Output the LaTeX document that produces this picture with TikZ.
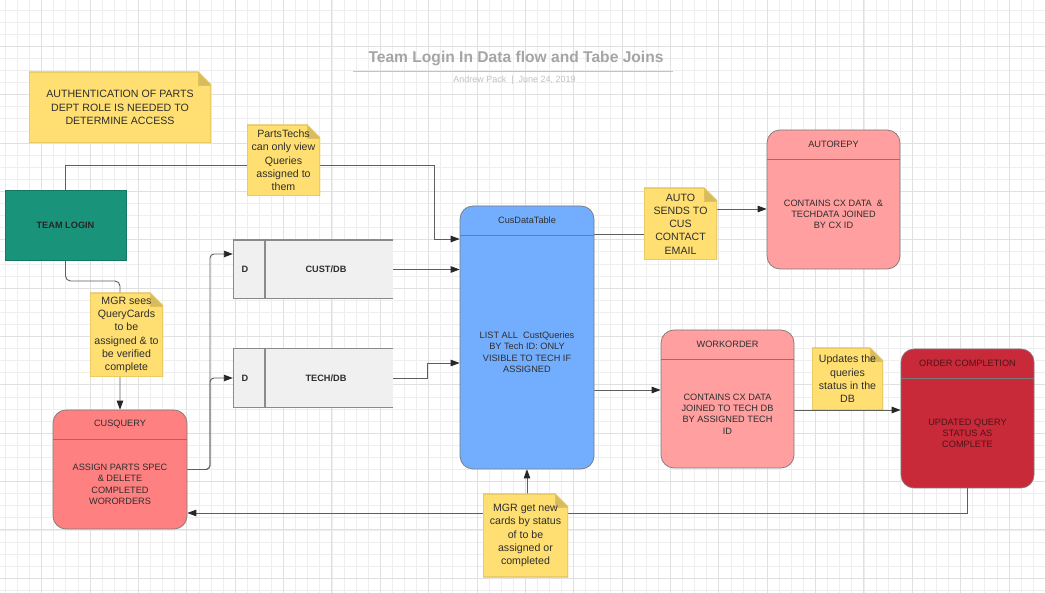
\documentclass[tikz,border=0pt]{standalone}
\usepackage{fontspec}
\setmainfont{Liberation Sans}
\usetikzlibrary{arrows.meta,calc}
\pgfdeclarelayer{gridlayer}
\pgfdeclarelayer{edges}
\pgfsetlayers{gridlayer,edges,main}
\definecolor{gridminor}{HTML}{EEEEEE}
\definecolor{gridmajor}{HTML}{E0E0E0}
\definecolor{notefill}{HTML}{FFDF71}
\definecolor{noteborder}{HTML}{E3C15A}
\definecolor{foldfill}{HTML}{D6BC5E}
\definecolor{linegray}{HTML}{5E5E5E}
\definecolor{boxborder}{HTML}{7A7A7A}
\definecolor{tealbox}{HTML}{1A937B}
\definecolor{dbfill}{HTML}{EFF0EF}
\definecolor{dbborder}{HTML}{8A8A8A}
\definecolor{salmonbox}{HTML}{FF8080}
\definecolor{pinkbox}{HTML}{FF9F9F}
\definecolor{bluebox}{HTML}{73AEFE}
\definecolor{redbox}{HTML}{C92A39}
\definecolor{txt}{HTML}{2E2E2E}
\definecolor{redtxt}{HTML}{4D1419}
\definecolor{titlegray}{HTML}{A5A5A5}
\definecolor{subgray}{HTML}{C2C2C2}
\begin{document}
\begin{tikzpicture}[x=1pt,y=-1pt,
  minorgrid/.style={draw=gridminor, line width=0.8pt},
  majorgrid/.style={draw=gridmajor, line width=1pt},
  conn/.style={draw=linegray, line width=0.9pt},
  arr/.style={conn, -{Triangle[length=9pt,width=6.5pt,color=black!85]}},
  boxfont/.style={font=\fontsize{9.2}{11.3}\selectfont},
  boldfont/.style={font=\fontsize{9.2}{11.3}\selectfont\bfseries},
  tbox/.style={draw=boxborder, line width=0.7pt, rounded corners=13pt, inner sep=0pt,
    path picture={\draw[boxborder, line width=0.7pt]
      ([yshift=-29pt]path picture bounding box.north west) --
      ([yshift=-29pt]path picture bounding box.north east);}},
  boxtitle/.style={boxfont, text=txt, inner sep=1pt},
  boxbody/.style={boxfont, text=txt, align=center, inner sep=1pt},
  dbbox/.style={fill=dbfill, inner sep=0pt, minimum width=160pt, minimum height=59pt,
    path picture={
      \draw[dbborder, line width=1.6pt]
        (path picture bounding box.north east) -- (path picture bounding box.north west) --
        (path picture bounding box.south west) -- (path picture bounding box.south east);
      \draw[dbborder, line width=1.4pt]
        ([xshift=32pt]path picture bounding box.north west) --
        ([xshift=32pt]path picture bounding box.south west);}},
  dblabel/.style={boldfont, text=txt, inner sep=1pt},
  note/.style={inner sep=0pt, align=center, text=txt,
    font=\fontsize{10.6}{13.3}\selectfont,
    path picture={
      \fill[notefill] (path picture bounding box.south west) -- (path picture bounding box.north west) --
        ([xshift=-13pt]path picture bounding box.north east) --
        ([yshift=-13pt]path picture bounding box.north east) --
        (path picture bounding box.south east) -- cycle;
      \fill[foldfill] ([xshift=-13pt]path picture bounding box.north east) --
        ([xshift=-13pt,yshift=-13pt]path picture bounding box.north east) --
        ([yshift=-13pt]path picture bounding box.north east) -- cycle;
      \draw[noteborder, line width=1.2pt, line join=bevel]
        (path picture bounding box.south west) -- (path picture bounding box.north west) --
        ([xshift=-13pt]path picture bounding box.north east) --
        ([yshift=-13pt]path picture bounding box.north east) --
        (path picture bounding box.south east) -- cycle;
      \draw[noteborder, line width=0.6pt]
        ([xshift=-13pt]path picture bounding box.north east) --
        ([xshift=-13pt,yshift=-13pt]path picture bounding box.north east) --
        ([yshift=-13pt]path picture bounding box.north east);}}
]
\useasboundingbox (0,0) rectangle (1045,593);

% ---------- grid ----------
\begin{pgfonlayer}{gridlayer}
\fill[white] (0,0) rectangle (1045,593);
\foreach \i in {0,...,85} \draw[minorgrid] ({5.43+12.092*\i},0) -- ({5.43+12.092*\i},593);
\foreach \j in {0,...,48} \draw[minorgrid] (0,{10.03+12.092*\j}) -- (1045,{10.03+12.092*\j});
\foreach \i in {0,...,20} \draw[majorgrid] ({41.7+48.37*\i},0) -- ({41.7+48.37*\i},593);
\foreach \j in {0,...,11} \draw[majorgrid] (0,{46.3+48.37*\j}) -- (1045,{46.3+48.37*\j});
\end{pgfonlayer}

% ---------- title ----------
\node[font=\fontsize{15.6}{18}\selectfont\bfseries, text=titlegray] (title) at (516,59) {Team Login In Data flow and Tabe Joins};
\draw[draw=gridmajor!70!gray, line width=1.5pt] (353,71.7) -- (673,71.7);
\node[font=\fontsize{9}{11}\selectfont, text=subgray] (subtitle) at (514.5,80) {Andrew Pack \ | \ June 24, 2019};

% ---------- boxes ----------
\node[fill=tealbox, draw=tealbox!80!black, line width=0.5pt, minimum width=121pt, minimum height=70pt, boldfont, text=black!85] (login) at (65.5,225) {TEAM LOGIN};

\node[dbbox] (cust) at (313,269.5) {};
\node[dblabel] (custD) at (245,269.5) {D};
\node[dblabel] (custL) at (326,269.5) {CUST/DB};
\node[dbbox] (tech) at (313,378) {};
\node[dblabel] (techD) at (245,378) {D};
\node[dblabel] (techL) at (326,378) {TECH/DB};

\node[tbox, fill=salmonbox, minimum width=134pt, minimum height=119pt] (cusq) at (120,469.5) {};
\node[boxtitle] (cusqT) at ([yshift=-14.5pt]cusq.north) {CUSQUERY};
\node[boxbody] (cusqB) at ([yshift=45pt]cusq.south) {ASSIGN PARTS SPEC\\\& DELETE\\COMPLETED\\WORORDERS};

\node[tbox, fill=bluebox, minimum width=134pt, minimum height=263pt] (cdt) at (527,337.5) {};
\node[boxtitle] (cdtT) at ([yshift=-14.5pt]cdt.north) {CusDataTable};
\node[boxbody] (cdtB) at ([yshift=117pt]cdt.south) {LIST ALL \ CustQueries\\BY Tech ID: ONLY\\VISIBLE TO TECH IF\\ASSIGNED};

\node[tbox, fill=pinkbox, minimum width=133pt, minimum height=139pt] (autor) at (833.5,199.5) {};
\node[boxtitle] (autorT) at ([yshift=-14.5pt]autor.north) {AUTOREPY};
\node[boxbody] (autorB) at ([yshift=55pt]autor.south) {CONTAINS CX DATA \ \&\\TECHDATA JOINED\\BY CX ID};

\node[tbox, fill=pinkbox, minimum width=133pt, minimum height=138pt] (wo) at (727.5,399) {};
\node[boxtitle] (woT) at ([yshift=-14.5pt]wo.north) {WORKORDER};
\node[boxbody] (woB) at ([yshift=54.5pt]wo.south) {CONTAINS CX DATA\\JOINED TO TECH DB\\BY ASSIGNED TECH\\ID};

\node[tbox, fill=redbox, minimum width=133pt, minimum height=139pt] (oc) at (967.5,418.5) {};
\node[boxtitle, text=redtxt] (ocT) at ([yshift=-14.5pt]oc.north) {ORDER COMPLETION};
\node[boxbody, text=redtxt] (ocB) at ([yshift=55pt]oc.south) {UPDATED QUERY\\STATUS AS\\COMPLETE};

% ---------- notes ----------
\node[note, minimum width=182pt, minimum height=71pt] (n1) at (120,107.5) {AUTHENTICATION OF PARTS\\DEPT ROLE IS NEEDED TO\\DETERMINE ACCESS};
\node[note, minimum width=73pt, minimum height=71pt] (n2) at (283.5,160.5) {PartsTechs\\can only view\\Queries\\assigned to\\them};
\node[note, minimum width=73pt, minimum height=84pt] (n3) at (126.5,335) {MGR sees\\QueryCards\\to be\\assigned \& to\\be verified\\complete};
\node[note, minimum width=73pt, minimum height=72pt] (n4) at (680.5,224) {AUTO\\SENDS TO\\CUS\\CONTACT\\EMAIL};
\node[note, minimum width=71pt, minimum height=62pt] (n5) at (847.5,379) {Updates the\\queries\\status in the\\DB};
\node[note, minimum width=85pt, minimum height=83pt] (n6) at (525.5,535.5) {MGR get new\\cards by status\\of to be\\assigned or\\completed};

% ---------- connectors ----------
\begin{pgfonlayer}{edges}
\coordinate (c1) at (434,165);
\coordinate (c2) at (434,239);
\draw[arr] (login.north) |- (c1) -- (c2) -- (c2 -| cdt.west);
\coordinate (c3) at (120,281);
\draw[arr, rounded corners=5pt] (login.south) |- (c3) -- (cusq.north);
\coordinate (c4) at (210,254);
\coordinate (c5) at (210,378);
\draw[arr, rounded corners=4pt] (cusq.east) -| (c4) -- (c4 -| cust.west);
\draw[arr, rounded corners=4pt] (cusq.east) -| (c5) -- (tech.west);
\draw[arr] (cust.east) -- (cust.east -| cdt.west);
\coordinate (c6) at (427,363);
\draw[arr] (tech.east) -| (c6) -- (c6 -| cdt.west);
\coordinate (c7) at (0,234);
\coordinate (c8) at (680,209);
\draw[arr] (c7 -| cdt.east) -| (c8) -- (c8 -| autor.west);
\coordinate (c9) at (0,390);
\draw[arr] (c9 -| cdt.east) -- (c9 -| wo.west);
\coordinate (c10) at (0,410);
\draw[arr] (c10 -| wo.east) -- (c10 -| oc.west);
\coordinate (c11) at (0,513);
\draw[arr] (oc.south) |- (c11 -| cusq.east);
\draw[arr] (cdt.south |- n6.north) -- (cdt.south);
\end{pgfonlayer}
\end{tikzpicture}
\end{document}
